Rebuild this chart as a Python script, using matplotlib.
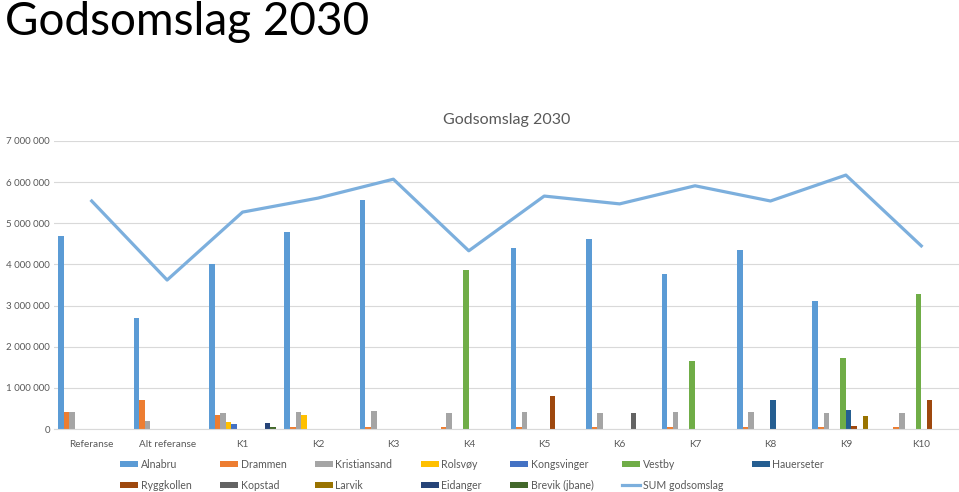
import numpy as np
import matplotlib
matplotlib.use("Agg")
import matplotlib.pyplot as plt
from matplotlib.ticker import FuncFormatter, MultipleLocator

plt.rcParams['font.family'] = ['Lato', 'DejaVu Sans']

categories = ["Referanse", "Alt referanse", "K1", "K2", "K3", "K4",
              "K5", "K6", "K7", "K8", "K9", "K10"]

alnabru      = [4.69e6, 2.70e6, 4.01e6, 4.79e6, 5.57e6, 0, 4.39e6, 4.62e6, 3.76e6, 4.35e6, 3.12e6, 0]
drammen      = [0.41e6, 0.70e6, 0.35e6, 0.06e6, 0.05e6, 0.05e6, 0.05e6, 0.06e6, 0.06e6, 0.06e6, 0.05e6, 0.05e6]
kristiansand = [0.41e6, 0.20e6, 0.40e6, 0.41e6, 0.43e6, 0.40e6, 0.42e6, 0.40e6, 0.41e6, 0.42e6, 0.40e6, 0.40e6]
rolsvoy      = [0, 0, 0.16e6, 0.34e6, 0, 0, 0, 0, 0, 0, 0, 0]
kongsvinger  = [0, 0, 0.12e6, 0, 0, 0, 0, 0, 0, 0, 0, 0]
vestby       = [0, 0, 0, 0, 0, 3.86e6, 0, 0, 1.65e6, 0, 1.73e6, 3.27e6]
hauerseter   = [0, 0, 0, 0, 0, 0, 0, 0, 0, 0.70e6, 0.46e6, 0]
ryggkollen   = [0, 0, 0, 0, 0, 0, 0.80e6, 0, 0, 0, 0.07e6, 0.70e6]
kopstad      = [0, 0, 0, 0, 0, 0, 0, 0.40e6, 0, 0, 0, 0]
larvik       = [0, 0, 0, 0, 0, 0, 0, 0, 0, 0, 0.32e6, 0]
eidanger     = [0, 0, 0.15e6, 0, 0, 0, 0, 0, 0, 0, 0, 0]
brevik       = [0, 0, 0.05e6, 0, 0, 0, 0, 0, 0, 0, 0, 0]
sum_godsomslag = [5.54e6, 3.62e6, 5.27e6, 5.61e6, 6.07e6, 4.33e6, 5.66e6, 5.47e6, 5.91e6, 5.54e6, 6.17e6, 4.45e6]

series = [
    ("Alnabru", alnabru, "#5B9BD5"),
    ("Drammen", drammen, "#ED7D31"),
    ("Kristiansand", kristiansand, "#A5A5A5"),
    ("Rolsvøy", rolsvoy, "#FFC000"),
    ("Kongsvinger", kongsvinger, "#4472C4"),
    ("Vestby", vestby, "#70AD47"),
    ("Hauerseter", hauerseter, "#255E91"),
    ("Ryggkollen", ryggkollen, "#9E480E"),
    ("Kopstad", kopstad, "#636363"),
    ("Larvik", larvik, "#997300"),
    ("Eidanger", eidanger, "#264478"),
    ("Brevik (jbane)", brevik, "#43682B"),
]

txt = "#595959"
fig = plt.figure(figsize=(9.59, 4.92), dpi=100)
ax = fig.add_axes([0.0563, 0.128, 0.9437, 0.5856])

x = np.arange(len(categories))
w = 1 / 13.5
n = len(series)
handles = {}
for i, (name, vals, col) in enumerate(series):
    b = ax.bar(x + (i - (n - 1) / 2) * w, vals, width=w, color=col, label=name)
    handles[name] = b
line, = ax.plot(x, sum_godsomslag, color="#7CAFDD", lw=2.3, label="SUM godsomslag")
handles["SUM godsomslag"] = line

ax.set_xlim(-0.5, len(categories) - 0.5)
ax.set_ylim(0, 7e6)
ax.yaxis.set_major_locator(MultipleLocator(1e6))
ax.yaxis.set_major_formatter(FuncFormatter(lambda v, p: f"{int(v):,}".replace(",", " ")))
ax.set_xticks(x)
ax.set_xticklabels(categories)
ax.tick_params(length=0, labelsize=7.2, colors=txt)
ax.tick_params(axis="x", pad=8)
ax.tick_params(axis="y", pad=3, labelsize=7)
ax.grid(axis="y", color="#D9D9D9", lw=0.8)
ax.set_axisbelow(True)
for s in ["top", "right", "left"]:
    ax.spines[s].set_visible(False)
ax.spines["bottom"].set_color("#D9D9D9")

ax.set_title("Godsomslag 2030", fontsize=11.5, color=txt, pad=12)
fig.text(0.005, 0.997, "Godsomslag 2030", fontsize=33, va="top", ha="left")

order = ["Alnabru", "Ryggkollen", "Drammen", "Kopstad", "Kristiansand", "Larvik",
         "Rolsvøy", "Eidanger", "Kongsvinger", "Brevik (jbane)", "Vestby",
         "SUM godsomslag", "Hauerseter"]
leg = fig.legend([handles[k] for k in order], order, ncol=7, loc="lower left",
                 bbox_to_anchor=(0.122, -0.004), frameon=False, fontsize=7.6,
                 handlelength=1.7, handleheight=0.55, columnspacing=2.7,
                 labelcolor=txt, handletextpad=0.25, labelspacing=0.95,
                 borderaxespad=0, borderpad=0.3)

fig.savefig("out.png", dpi=100)
